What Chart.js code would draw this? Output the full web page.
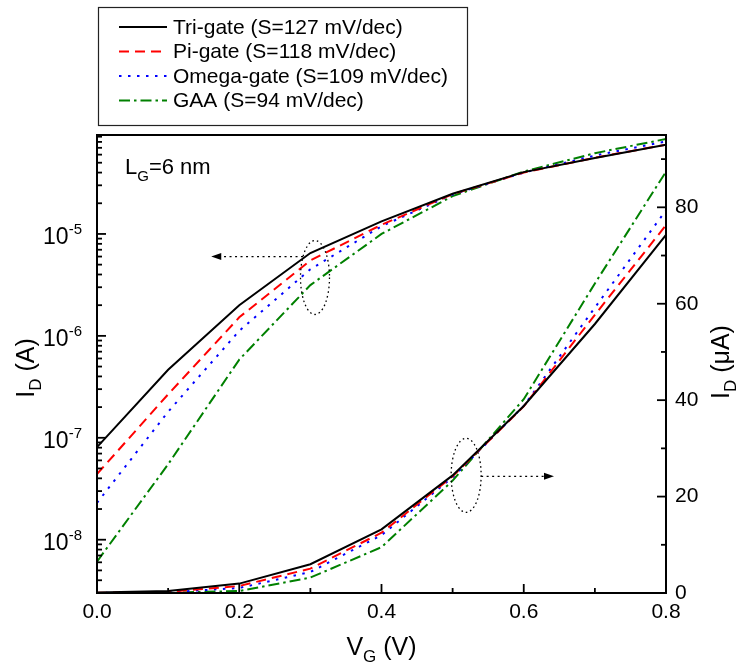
<!DOCTYPE html>
<html><head><meta charset="utf-8">
<script src="https://cdn.jsdelivr.net/npm/chart.js@4.4.1/dist/chart.umd.min.js"></script>
<style>html,body{margin:0;padding:0;background:#fff;}canvas{display:block;}</style>
</head><body>
<canvas id="c" width="740" height="668"></canvas>
<script>
// ---------- data ----------
const VG = [0, 0.1, 0.2, 0.3, 0.4, 0.5, 0.6, 0.7, 0.8];
const seriesNames = ['Tri-gate (S=127 mV/dec)', 'Pi-gate (S=118 mV/dec)', 'Omega-gate (S=109 mV/dec)', 'GAA (S=94 mV/dec)'];
// log panel (A)
const triLog   = [8.1e-8, 4.65e-7, 2.0e-6, 6.5e-6, 1.33e-5, 2.48e-5, 4.04e-5, 5.57e-5, 7.52e-5];
const piLog    = [4.4e-8, 2.67e-7, 1.52e-6, 5.5e-6, 1.23e-5, 2.46e-5, 4.0e-5, 5.6e-5, 7.52e-5];
const omegaLog = [2.3e-8, 1.8e-7, 1.12e-6, 4.5e-6, 1.19e-5, 2.44e-5, 4.0e-5, 5.87e-5, 8.1e-5];
const gaaLog   = [6.1e-9, 5.5e-8, 5.85e-7, 3.15e-6, 1.0e-5, 2.35e-5, 4.1e-5, 6.2e-5, 8.55e-5];
// linear panel (uA)
const triLin   = [0.08, 0.4, 1.95, 5.96, 13.2, 24.4, 38.8, 55.8, 74.3];
const piLin    = [0.04, 0.25, 1.45, 5.06, 12.5, 24.2, 38.7, 57.7, 76.3];
const omegaLin = [0.02, 0.15, 1.04, 4.36, 12.0, 24.0, 38.8, 59.2, 79.4];
const gaaLin   = [0.01, 0.05, 0.42, 3.2, 9.5, 23.3, 40.2, 64.2, 87.4];
// tick labels
const xTickLabels = ['0.0', '0.2', '0.4', '0.6', '0.8'];
const rightTickLabels = ['0', '20', '40', '60', '80'];
const logTickExponents = [-8, -7, -6, -5];

// ---------- styles ----------
const FONT = '"Liberation Sans", Arial, Helvetica, sans-serif';
const styles = [
  {color: '#000000', dash: []},
  {color: '#ff0000', dash: [10, 6]},
  {color: '#0000ff', dash: [2.5, 6.5]},
  {color: '#008000', dash: [11, 4, 2.5, 4]}
];
const logSets = [triLog, piLog, omegaLog, gaaLog];
const linSets = [triLin, piLin, omegaLin, gaaLin];

function pts(arr) { return VG.map((v, i) => ({x: v, y: arr[i]})); }

const datasets = [];
logSets.forEach((arr, k) => datasets.push({
  label: seriesNames[k], data: pts(arr), yAxisID: 'yL',
  borderColor: styles[k].color, borderDash: styles[k].dash, borderWidth: 2,
  pointRadius: 0, tension: 0, fill: false
}));
linSets.forEach((arr, k) => datasets.push({
  label: seriesNames[k] + ' lin', data: pts(arr), yAxisID: 'yR',
  borderColor: styles[k].color, borderDash: styles[k].dash, borderWidth: 2,
  pointRadius: 0, tension: 0, fill: false
}));

function drawRich(ctx, parts, x, y, align) {
  let w = 0;
  for (const p of parts) { ctx.font = p.size + 'px ' + FONT; p.w = ctx.measureText(p.t).width; w += p.w; }
  let cx = align === 'center' ? x - w / 2 : (align === 'right' ? x - w : x);
  ctx.textAlign = 'left'; ctx.textBaseline = 'alphabetic';
  for (const p of parts) { ctx.font = p.size + 'px ' + FONT; ctx.fillText(p.t, cx, y + (p.dy || 0)); cx += p.w; }
}

function arrow(ctx, x0, y, x1) {
  ctx.save();
  ctx.strokeStyle = '#000'; ctx.lineWidth = 1.3; ctx.setLineDash([2, 3.5]);
  const dir = Math.sign(x1 - x0);
  ctx.beginPath(); ctx.moveTo(x0, y); ctx.lineTo(x1 - dir * 9, y); ctx.stroke();
  ctx.setLineDash([]); ctx.fillStyle = '#000';
  ctx.beginPath(); ctx.moveTo(x1, y); ctx.lineTo(x1 - dir * 10, y - 3.5); ctx.lineTo(x1 - dir * 10, y + 3.5); ctx.closePath(); ctx.fill();
  ctx.restore();
}
function ellipse(ctx, cx, cy, rx, ry) {
  ctx.save();
  ctx.strokeStyle = '#000'; ctx.lineWidth = 1.3; ctx.setLineDash([1.6, 3]);
  ctx.beginPath(); ctx.ellipse(cx, cy, rx, ry, 0, 0, Math.PI * 2); ctx.stroke();
  ctx.restore();
}

const decor = {
  id: 'decor',
  afterDraw(chart) {
    const ctx = chart.ctx, a = chart.chartArea;
    const xs = chart.scales.x, yL = chart.scales.yL, yR = chart.scales.yR;
    ctx.save();
    ctx.strokeStyle = '#000'; ctx.fillStyle = '#000';
    // frame
    ctx.lineWidth = 2; ctx.setLineDash([]);
    ctx.strokeRect(a.left, a.top, a.right - a.left, a.bottom - a.top);
    ctx.lineWidth = 1.8;
    // x ticks (inward)
    xs.ticks.forEach(t => {
      const k = Math.round(t.value * 10);
      const px = xs.getPixelForValue(t.value);
      const len = (k % 2 === 0) ? 9 : 5;
      ctx.beginPath(); ctx.moveTo(px, a.bottom); ctx.lineTo(px, a.bottom - len); ctx.stroke();
    });
    // right ticks
    yR.ticks.forEach(t => {
      if (Math.abs(t.value % 10) > 1e-6) return;
      const py = yR.getPixelForValue(t.value);
      const len = (Math.round(t.value) % 20 === 0) ? 9 : 5;
      ctx.beginPath(); ctx.moveTo(a.right, py); ctx.lineTo(a.right - len, py); ctx.stroke();
    });
    // left log ticks
    const e0 = Math.floor(Math.log10(yL.min)), e1 = Math.ceil(Math.log10(yL.max));
    for (let e = e0; e <= e1; e++) {
      for (let m = 1; m <= 9; m++) {
        const v = m * Math.pow(10, e);
        if (v < yL.min * 0.999 || v > yL.max * 1.001) continue;
        const py = yL.getPixelForValue(v);
        const len = m === 1 ? 9 : 5;
        ctx.beginPath(); ctx.moveTo(a.left, py); ctx.lineTo(a.left + len, py); ctx.stroke();
      }
    }
    // left log labels
    logTickExponents.forEach(e => {
      const py = yL.getPixelForValue(Math.pow(10, e));
      drawRich(ctx, [{t: '10', size: 23}, {t: '-' + Math.abs(e), size: 15, dy: -10}], a.left - 15, py + 10, 'right');
    });
    // axis titles
    drawRich(ctx, [{t: 'V', size: 25}, {t: 'G', size: 17, dy: 7}, {t: ' (V)', size: 25}], (a.left + a.right) / 2, 655, 'center');
    ctx.save(); ctx.translate(25, 368); ctx.rotate(-Math.PI / 2);
    drawRich(ctx, [{t: 'I', size: 25}, {t: 'D', size: 17, dy: 7}, {t: ' (A)', size: 25}], 0, 9, 'center');
    ctx.restore();
    ctx.save(); ctx.translate(720, 362); ctx.rotate(-Math.PI / 2);
    drawRich(ctx, [{t: 'I', size: 25}, {t: 'D', size: 17, dy: 7}, {t: ' (\u03bcA)', size: 25}], 0, 9, 'center');
    ctx.restore();
    // L_G label
    drawRich(ctx, [{t: 'L', size: 22}, {t: 'G', size: 15, dy: 7}, {t: '=6 nm', size: 22}], a.left + 28, a.top + 39, 'left');
    // annotations (anchored on data coordinates)
    const lcx = xs.getPixelForValue(0.3065), lcy = yL.getPixelForValue(3.74e-6);
    ellipse(ctx, lcx, lcy, 14.5, 37);
    const lay = yL.getPixelForValue(6.0e-6);
    const lx0 = lcx - 14.5 * Math.sqrt(Math.max(0, 1 - Math.pow((lay - lcy) / 37, 2)));
    arrow(ctx, lx0, lay, xs.getPixelForValue(0.1606));
    const rcx = xs.getPixelForValue(0.519), rcy = yR.getPixelForValue(24.4);
    ellipse(ctx, rcx, rcy, 15, 37);
    const ray = yR.getPixelForValue(24.2);
    arrow(ctx, rcx + 15, ray, xs.getPixelForValue(0.6425));
    // legend
    ctx.lineWidth = 1.2; ctx.strokeStyle = '#222'; ctx.setLineDash([]);
    ctx.strokeRect(98.5, 7.5, 369, 118);
    for (let k = 0; k < 4; k++) {
      const ds = chart.data.datasets[k];
      const ry = 27 + k * 24.5;
      ctx.save();
      ctx.strokeStyle = ds.borderColor; ctx.lineWidth = 2; ctx.setLineDash(ds.borderDash || []);
      ctx.beginPath(); ctx.moveTo(119, ry); ctx.lineTo(167, ry); ctx.stroke();
      ctx.restore();
      ctx.fillStyle = '#000'; ctx.font = '21px ' + FONT; ctx.textAlign = 'left'; ctx.textBaseline = 'middle';
      ctx.fillText(ds.label, 173, ry + 1);
    }
    ctx.restore();
  }
};

new Chart(document.getElementById('c'), {
  type: 'line',
  data: {datasets},
  options: {
    responsive: false, devicePixelRatio: 1, animation: false,
    layout: {padding: {top: 135, left: 0, right: 0, bottom: 0}},
    plugins: {legend: {display: false}, tooltip: {enabled: false}},
    scales: {
      x: {
        type: 'linear', min: 0, max: 0.8,
        grid: {display: false, drawTicks: false}, border: {display: false},
        ticks: {
          stepSize: 0.1, autoSkip: false, maxRotation: 0, padding: 7, color: '#000',
          font: {family: FONT, size: 21},
          callback: v => { const s = Number(v).toFixed(1); return xTickLabels.includes(s) ? s : ''; }
        },
        afterFit: s => { s.height = 75; }
      },
      yL: {
        type: 'logarithmic', position: 'left', min: 3.0e-9, max: 9.35e-5,
        grid: {display: false, drawTicks: false}, border: {display: false},
        ticks: {display: false},
        afterFit: s => { s.width = 97; }
      },
      yR: {
        type: 'linear', position: 'right', min: 0, max: 95,
        grid: {display: false, drawTicks: false}, border: {display: false},
        ticks: {
          stepSize: 10, autoSkip: false, padding: 9, color: '#000',
          font: {family: FONT, size: 21},
          callback: v => { const s = String(Math.round(v)); return (Math.abs(v - Math.round(v)) < 1e-6 && rightTickLabels.includes(s)) ? s : ''; }
        },
        afterFit: s => { s.width = 74; }
      }
    }
  },
  plugins: [decor]
});
</script>
</body></html>
